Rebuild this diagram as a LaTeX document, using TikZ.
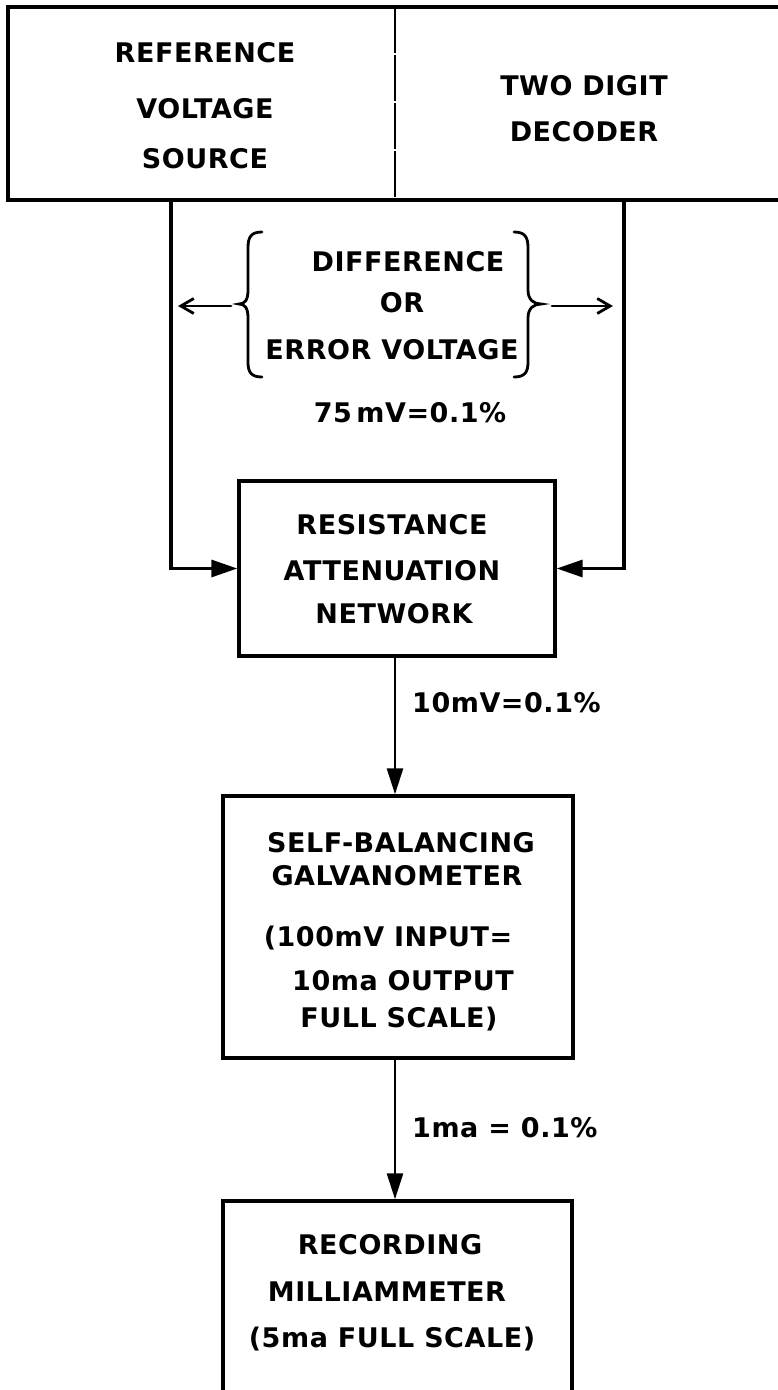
\documentclass[tikz,border=0pt]{standalone}
\usepackage{fontspec}
\newfontfamily\lf{DejaVu Sans}[LetterSpace=2, UprightFont={* Bold}]
\usetikzlibrary{arrows.meta,calc}
\begin{document}
\begin{tikzpicture}[x=1pt,y=-1pt,
  lbl/.style={font=\lf\fontsize{27pt}{30pt}\selectfont, anchor=base, inner sep=0pt},
  llbl/.style={lbl, anchor=base west},
  box/.style={draw, line width=3.4pt, inner sep=0pt},
  topline/.style={line width=4pt},
  conn/.style={line width=3.2pt},
  dconn/.style={line width=2.6pt},
  brace/.style={line width=2.8pt, line cap=round},
  sidetip/.style={-{Triangle[length=26pt,width=17pt]}},
  downtip/.style={-{Triangle[length=26pt,width=16pt]}},
  bartip/.style={-{Straight Barb[length=13pt,width=15pt,line width=2.8pt]}}
]
\useasboundingbox (0,0) rectangle (777,1390);

% top box (open on the right)
\draw[topline] (800,7) -- (8,7) -- (8,200) -- (800,200);
\draw[line width=2.2pt, dash pattern=on 46pt off 2pt] (395,7) -- (395,200);
\node[lbl] (ref1) at (205,62) {REFERENCE};
\node[lbl] (ref2) at (205,118) {VOLTAGE};
\node[lbl] (ref3) at (205,168) {SOURCE};
\node[lbl] (dec1) at (584,95) {TWO DIGIT};
\node[lbl] (dec2) at (584,141) {DECODER};
\coordinate (refout) at (171,200);
\coordinate (decout) at (624,200);

% difference / error voltage
\node[lbl] (diff1) at (408,271.5) {DIFFERENCE};
\node[lbl] (diff2) at (402,312.5) {OR};
\node[lbl] (diff3) at (392,359.5) {ERROR VOLTAGE};
\draw[brace] (262,232) .. controls (251,232) and (248,237) .. (248,248) -- (248,290)
  .. controls (248,300) and (245,304) .. (239,304)
  .. controls (245,304) and (248,308) .. (248,318) -- (248,362)
  .. controls (248,372) and (251,377) .. (262,377);
\draw[brace] (514,232) .. controls (525,232) and (528,237) .. (528,248) -- (528,290)
  .. controls (528,300) and (534,304) .. (541,304)
  .. controls (534,304) and (528,308) .. (528,318) -- (528,362)
  .. controls (528,372) and (525,377) .. (514,377);
\coordinate (lbs) at (231,306);
\coordinate (lbe) at (178,306);
\coordinate (rbs) at (552,306);
\coordinate (rbe) at (613,306);
\draw[brace, bartip] (lbs) -- (lbe);
\draw[brace, bartip] (rbs) -- (rbe);
\node[lbl] (mv75) at (410,422) {75\,mV=0.1\%};

% resistance attenuation network
\node[box, minimum width=316pt, minimum height=175pt] (res) at (397,568.5) {};
\node[lbl] (res1) at (392,534.5) {RESISTANCE};
\node[lbl] (res2) at (392,580) {ATTENUATION};
\node[lbl] (res3) at (394,623.5) {NETWORK};
\draw[conn, sidetip] (refout) |- (res.west);
\draw[conn, sidetip] (decout) |- (res.east);

% galvanometer
\node[box, minimum width=350pt, minimum height=262pt] (gal) at (398,927) {};
\node[lbl] (gal1) at (401,852.5) {SELF-BALANCING};
\node[lbl] (gal2) at (397,885) {GALVANOMETER};
\node[lbl] (gal3) at (388,946.5) {(100mV INPUT=};
\node[lbl] (gal4) at (403,990) {10ma OUTPUT};
\node[lbl] (gal5) at (399,1027.5) {FULL SCALE)};
\coordinate (ax) at (395,0);
\draw[dconn, downtip] (res.south -| ax) -- (gal.north -| ax);
\node[llbl] (mv10) at (412,712) {10mV=0.1\%};

% recording milliammeter
\node[box, minimum width=349pt, minimum height=220pt] (rec) at (397.5,1311) {};
\node[lbl] (rec1) at (390,1254.5) {RECORDING};
\node[lbl] (rec2) at (387,1301.5) {MILLIAMMETER};
\node[lbl] (rec3) at (392,1347.5) {(5ma FULL SCALE)};
\draw[dconn, downtip] (gal.south -| ax) -- (rec.north -| ax);
\node[llbl] (ma1) at (412,1137.5) {1ma = 0.1\%};
\end{tikzpicture}
\end{document}
